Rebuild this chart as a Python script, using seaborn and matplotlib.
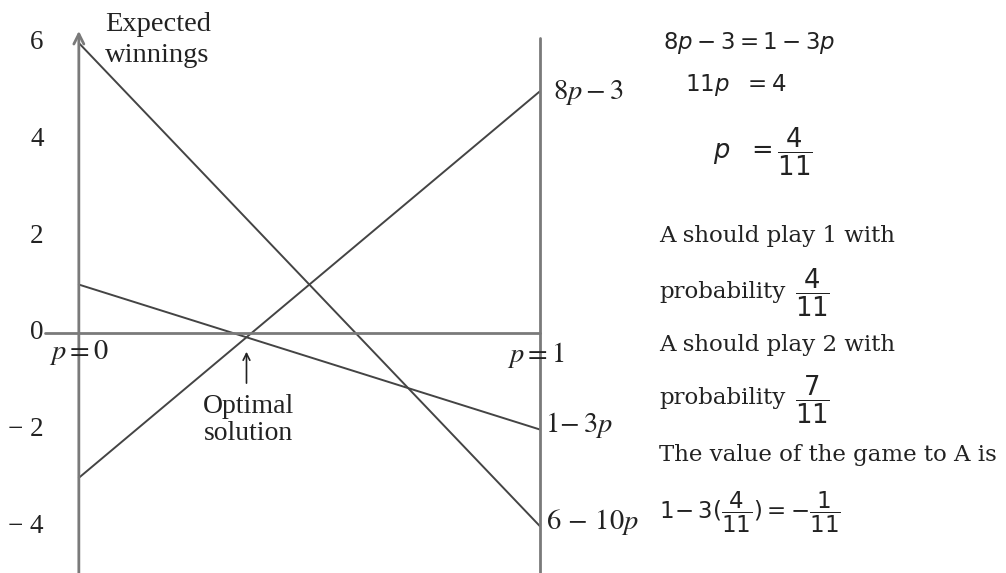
import numpy as np
import pandas as pd
import matplotlib
matplotlib.use("Agg")
import matplotlib.pyplot as plt
import seaborn as sns

# -----------------------------
# Data: the three strategy lines, E(p) at p = 0 and p = 1
# -----------------------------
p_ends = [0, 1]
w_6_10p = [6, -4]   # 6 - 10p
w_8p_3 = [-3, 5]    # 8p - 3
w_1_3p = [1, -2]    # 1 - 3p
line_names = ["6 - 10p", "8p - 3", "1 - 3p"]

ytick_vals = [6, 4, 2, 0, -2, -4]
ytick_labels = ["6", "4", "2", "0", "\u2212 2", "\u2212 4"]

p_opt = 4 / 11
v_opt = -1 / 11

df = pd.DataFrame({
    "p": p_ends * 3,
    "w": w_6_10p + w_8p_3 + w_1_3p,
    "line": [n for n in line_names for _ in p_ends],
})

# -----------------------------
# Figure
# -----------------------------
sns.set_style("white")
plt.rcParams['font.family'] = ['Liberation Serif', 'DejaVu Serif']
plt.rcParams['mathtext.fontset'] = 'stix'

fig = plt.figure(figsize=(10.06, 5.73), dpi=100)
ax = fig.add_axes([0, 0, 1, 1])
ax.set_xlim(-0.171, 2.011)
ax.set_ylim(-4.97, 6.89)
ax.axis("off")

ink = "#222222"
line_col = "#444444"
axis_col = "#7a7a7a"

sns.lineplot(data=df, x="p", y="w", units="line", estimator=None,
             color=line_col, lw=1.4, ax=ax, legend=False)

# axes: p = 0 with arrow, p = 1 line, zero line
ax.annotate("", xy=(0, 6.25), xytext=(0, -4.97),
            arrowprops=dict(arrowstyle="->", color=axis_col, lw=2,
                            mutation_scale=18, shrinkA=0, shrinkB=0))
ax.plot([1, 1], [6.1, -4.97], color=axis_col, lw=2)
ax.plot([-0.074, 1], [0, 0], color=axis_col, lw=2)

# y tick labels
for v, lab in zip(ytick_vals, ytick_labels):
    ax.text(-0.076, v, lab, ha="right", va="center", fontsize=19.5, color=ink)

# labels on the plot
ax.text(0.056, 6.07, "Expected\nwinnings", ha="left", va="center",
        fontsize=20.5, color=ink, linespacing=1.32)
ax.text(1.028, 4.97, r"$8p - 3$", ha="left", va="center", fontsize=20.5, color=ink)
ax.text(1.011, -1.9, r"$1\!- 3p$", ha="left", va="center", fontsize=20.5, color=ink)
ax.text(1.013, -3.91, r"$6\,-\,10p$", ha="left", va="center", fontsize=20.5, color=ink)
ax.text(0.0, -0.41, r"$p = 0$", ha="center", va="center", fontsize=20.5, color=ink)
ax.text(0.99, -0.45, r"$p = 1$", ha="center", va="center", fontsize=20.5, color=ink)

ax.annotate("", xy=(p_opt, -0.39), xytext=(p_opt, -1.04),
            arrowprops=dict(arrowstyle="->", color=ink, lw=1.2,
                            mutation_scale=12, shrinkA=0, shrinkB=0))
ax.text(p_opt + 0.005, -1.8, "Optimal\nsolution", ha="center", va="center",
        fontsize=20, color=ink, linespacing=1.1)

# -----------------------------
# Working on the right
# -----------------------------
def fx(x):
    return x / 1006

def fy(y):
    return 1 - y / 573

eq_kw = dict(fontsize=16.5, color=ink, math_fontfamily="dejavusans", va="center")
frac_kw = dict(eq_kw, fontsize=18.5)
fig.text(fx(663), fy(43), r"$8p - 3 = 1 - 3p$", ha="left", **eq_kw)
fig.text(fx(685), fy(85), r"$11p\ \ = 4$", ha="left", **eq_kw)
fig.text(fx(713), fy(152), r"$p\ \ = \dfrac{4}{11}$", ha="left", **frac_kw)

txt_kw = dict(fontsize=16.5, color=ink, family="DejaVu Serif", va="center",
              ha="left")
fig.text(fx(659), fy(236), "A should play 1 with", **txt_kw)
fig.text(fx(659), fy(292), "probability", **txt_kw)
fig.text(fx(812), fy(293), r"$\dfrac{4}{11}$", ha="center", **frac_kw)
fig.text(fx(659), fy(345), "A should play 2 with", **txt_kw)
fig.text(fx(659), fy(398), "probability", **txt_kw)
fig.text(fx(812), fy(400), r"$\dfrac{7}{11}$", ha="center", **frac_kw)
fig.text(fx(659), fy(455), "The value of the game to A is", **txt_kw)
fig.text(fx(659), fy(512), r"$1\!-3(\dfrac{4}{11}) = -\dfrac{1}{11}$",
         ha="left", **eq_kw)

fig.savefig("out.png", dpi=100)
